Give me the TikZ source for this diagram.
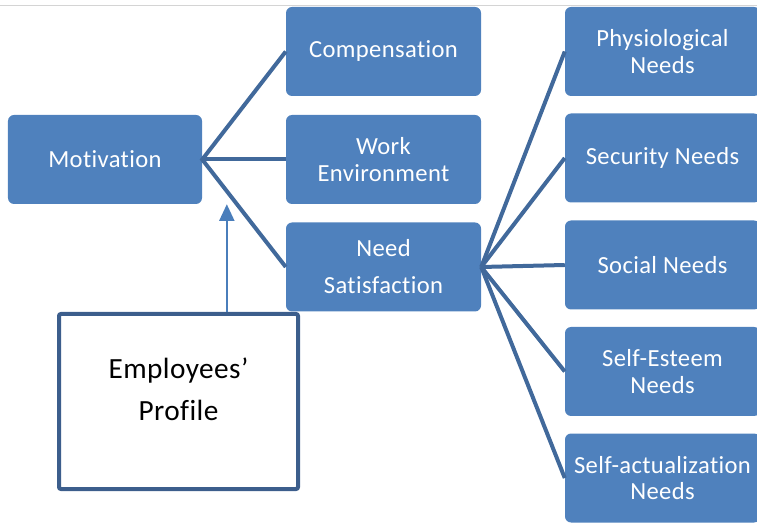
\documentclass[tikz,border=0pt]{standalone}
\usepackage{fontspec}
\setmainfont{Carlito}[Ligatures=NoCommon, LetterSpace=1.5]
\usetikzlibrary{arrows.meta}
\newcommand{\cmp}[2]{\begin{minipage}[h]{#1}\centering #2\end{minipage}}
\definecolor{boxblue}{HTML}{4F81BD}
\definecolor{linkblue}{HTML}{41699B}
\definecolor{frameblue}{HTML}{3C5E8C}
\definecolor{arrowblue}{HTML}{4A7EBB}
\definecolor{rulegray}{HTML}{D4D4D4}

\begin{document}
\begin{tikzpicture}[
  box/.style={minimum width=5.85cm, minimum height=2.67cm, rounded corners=.18cm,
    fill=boxblue, text=white, inner sep=0pt, font=\fontsize{21}{22.5}\selectfont},
  pbox/.style={minimum width=7.17cm, minimum height=5.25cm, rounded corners=.06cm,
    draw=frameblue, line width=.12cm, fill=white},
  link/.style={linkblue, line width=.12cm},
  arr/.style={arrowblue, line width=.06cm, -{Triangle[length=.5cm, width=.45cm]}},
  ]

\useasboundingbox (0,0) rectangle (22.71,15.84);
\draw[rulegray, thin] (0,15.69) -- (22.71,15.69);

\path (3.15,11.055) node[box, minimum width=5.82cm](mot){Motivation};

\path (11.505,14.295) node[box](comp){Compensation};
\path (11.505,11.055) node[box](work){\cmp{5cm}{Work\\Environment}};
\path (11.505,7.83) node[box](need){\cmp{5cm}{Need\\[9pt]Satisfaction}};

\path (19.875,14.295) node[box](phys){\cmp{5.5cm}{Physiological\\Needs}};
\path (19.875,11.1) node[box](sec){Security Needs};
\path (19.875,7.89) node[box](soc){Social Needs};
\path (19.875,4.695) node[box](est){\cmp{5.5cm}{Self-Esteem\\Needs}};
\path (19.875,1.5) node[box](act){\cmp{5.8cm}{Self-actualization\\Needs}};

\path (5.355,3.795) node[pbox](prof){};
\path (prof.center) ++(0,.37) node[font=\fontsize{25}{36}\selectfont](proft){\cmp{6cm}{Employees’\\Profile}};

% motivation fan
\draw[link] (comp.west) -- (mot.east) -- (need.west);
\draw[link] (mot.east) -- (work.west);

% needs fan
\draw[link] (need.east) -- (phys.west);
\draw[link] (need.east) -- (sec.west);
\draw[link] (need.east) -- (soc.west);
\draw[link] (need.east) -- (est.west);
\draw[link] (need.east) -- (act.west);

\path (prof.north) ++(1.45,0) coordinate(pa);
\draw[arr] (pa) -- (pa |- mot.south);

\end{tikzpicture}
\end{document}
